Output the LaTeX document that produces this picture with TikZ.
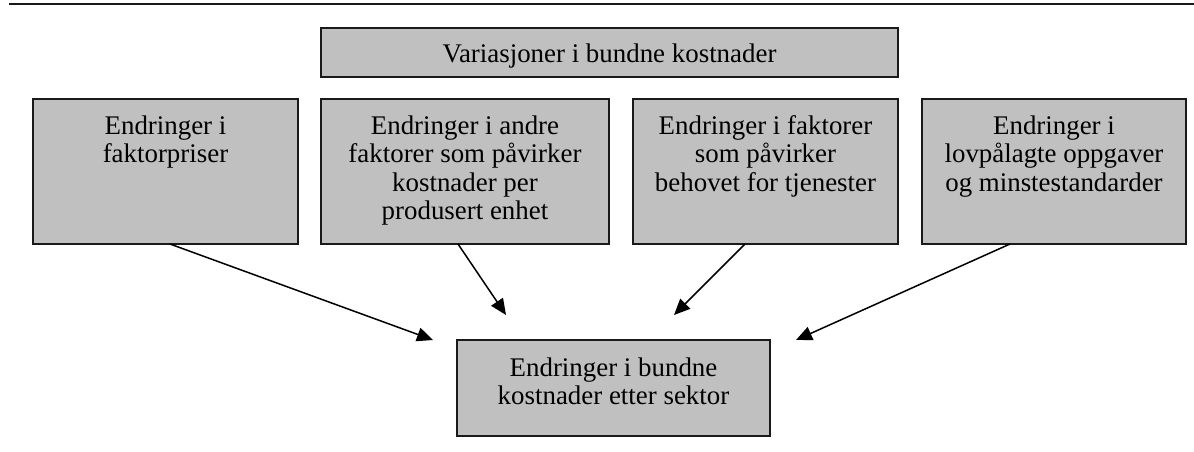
\documentclass[tikz,border=0pt]{standalone}
\usepackage{fontspec}
\setmainfont{Liberation Serif}
\usetikzlibrary{arrows.meta}
\definecolor{boxfill}{HTML}{C0C0C0}
\definecolor{boxline}{HTML}{1A1A1A}
\newcommand{\bx}[4]{\parbox[c][#2][t]{#1}{\centering\vspace*{#3}\strut #4}}
\begin{document}
\begin{tikzpicture}[x=1pt,y=-1pt,
  box/.style={draw=boxline,fill=boxfill,line width=1.4pt,inner sep=0pt,outer sep=0pt,
    font=\fontsize{26.9}{28.2}\selectfont},
  arr/.style={line width=1.5pt,draw=black,-{Triangle[length=16pt,width=14pt]}},
  rule/.style={line width=2.7pt,draw=black!90}]
\useasboundingbox (0,0) rectangle (1194,452);
\coordinate (r1) at (9,4);
\coordinate (r2) at (1194,4);
\draw[rule] (r1) -- (r2);
\node[box] (top) at (609.5,52.5) {\bx{577pt}{49pt}{15pt}{Variasjoner i bundne kostnader}};
\node[box] (b1) at (165.5,171.5) {\bx{265pt}{145pt}{16pt}{Endringer i\\faktorpriser}};
\node[box] (b2) at (465,171.5) {\bx{288pt}{145pt}{16pt}{Endringer i andre\\faktorer som påvirker\\kostnader per\\produsert enhet}};
\node[box] (b3) at (765.5,171.5) {\bx{265pt}{145pt}{16pt}{Endringer i faktorer\\som påvirker\\behovet for tjenester}};
\node[box] (b4) at (1054,171.5) {\bx{264pt}{145pt}{16pt}{Endringer i\\lovpålagte oppgaver\\og minstestandarder}};
\node[box] (res) at (613.5,388) {\bx{313pt}{96pt}{17pt}{Endringer i bundne\\kostnader etter sektor}};
\coordinate (t1) at (433,340);
\coordinate (t2) at (506,315);
\coordinate (t3) at (674,315);
\coordinate (t4) at (796,340);
\draw[arr] ([xshift=4.5pt]b1.south) -- (t1);
\draw[arr] ([xshift=-7pt]b2.south) -- (t2);
\draw[arr] ([xshift=-20.5pt]b3.south) -- (t3);
\draw[arr] ([xshift=-44pt]b4.south) -- (t4);
\end{tikzpicture}
\end{document}
